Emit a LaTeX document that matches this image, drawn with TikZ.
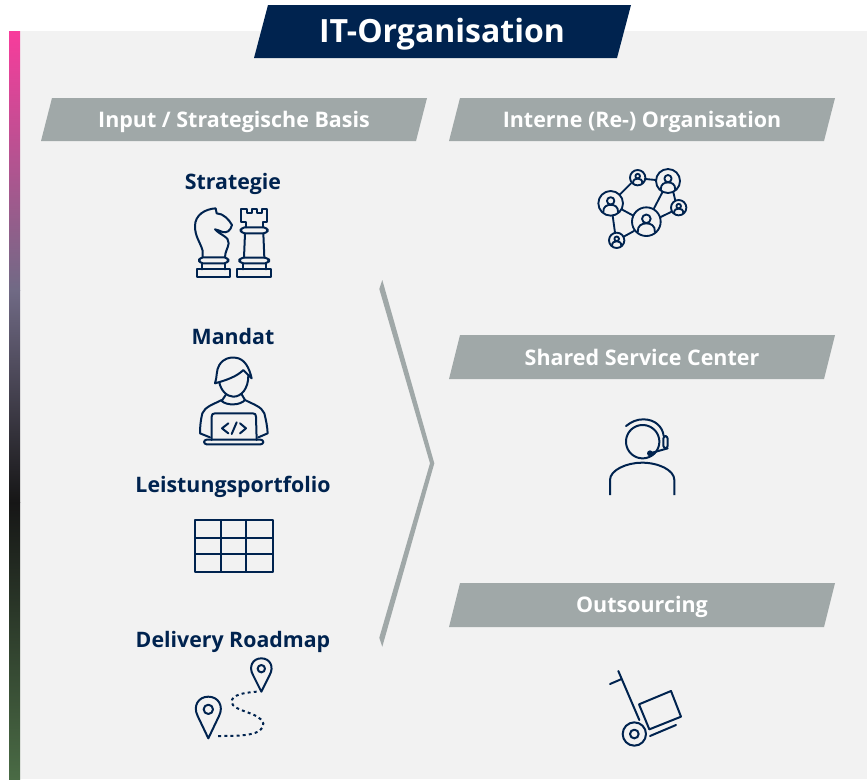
\documentclass[tikz,border=0pt]{standalone}
\usepackage{fontspec}
\setmainfont{Open Sans}
\definecolor{navy}{HTML}{00234F}
\definecolor{hdr}{HTML}{A0A8A8}
\definecolor{panel}{HTML}{F2F2F2}
\definecolor{gA}{HTML}{F83C9C}
\definecolor{gB}{HTML}{706A85}
\definecolor{gC}{HTML}{161616}
\definecolor{gD}{HTML}{4A6B45}
\tikzset{
  hdrtext/.style={text=white,font=\bfseries\fontsize{16.1}{20}\selectfont,inner sep=0pt,anchor=center},
  lbltext/.style={text=navy,font=\bfseries\fontsize{16}{20}\selectfont,inner sep=0pt,anchor=center},
  icon/.style={draw=navy,line width=1.5pt,line join=round,line cap=round},
  thin icon/.style={draw=navy,line width=1.4pt,line join=round,line cap=round},
  zoomed/.style={x=0.25pt,y=-0.25pt}
}
\newcommand{\netp}[3]{%
  \draw[thin icon] (#1,#2) circle[radius=#3];
  \draw[thin icon] (#1,{#2-0.2*#3}) circle[radius={0.3*#3}];
  \draw[thin icon] ({#1-0.6*#3},{#2+0.72*#3}) .. controls ({#1-0.62*#3},{#2+0.25*#3}) and ({#1-0.3*#3},{#2+0.12*#3}) .. (#1,{#2+0.12*#3}) .. controls ({#1+0.3*#3},{#2+0.12*#3}) and ({#1+0.62*#3},{#2+0.25*#3}) .. ({#1+0.6*#3},{#2+0.72*#3});
}
\begin{document}
\begin{tikzpicture}[x=0.75pt,y=-0.75pt]
\useasboundingbox (0,0) rectangle (867,779);
\fill[white] (0,0) rectangle (867,779);
\fill[panel] (20,31) rectangle (867,779);
% gradient bar
\shade[top color=gA,bottom color=gB] (9,31) rectangle (20,290.5);
\shade[top color=gB,bottom color=gC] (9,290) rectangle (20,502.5);
\shade[top color=gC,bottom color=gD] (9,502) rectangle (20,779);
% title
\fill[navy] (254,58) -- (268,5) -- (631,5) -- (617,58) -- cycle;
\node[text=white,font=\bfseries\fontsize{24}{30}\selectfont,inner sep=0pt] (title) at (442,34.5) {IT-Organisation};
% headers
\fill[hdr] (41,141) -- (52,98) -- (427,98) -- (416,141) -- cycle;
\fill[hdr] (449,141) -- (460,98) -- (835,98) -- (824,141) -- cycle;
\fill[hdr] (449,379) -- (460,335) -- (835,335) -- (824,379) -- cycle;
\fill[hdr] (449,627) -- (460,583) -- (835,583) -- (824,627) -- cycle;
\node[hdrtext] (h1) at (234,121.8) {Input / Strategische Basis};
\node[hdrtext] (h2) at (642,121.8) {Interne (Re-) Organisation};
\node[hdrtext] (h3) at (642,357.6) {Shared Service Center};
\node[hdrtext] (h4) at (642,606.8) {Outsourcing};
% labels
\node[lbltext] (l1) at (233,183.8) {Strategie};
\node[lbltext] (l2) at (233,336) {Mandat};
\node[lbltext] (l3) at (233,487.2) {Leistungsportfolio};
\node[lbltext] (l4) at (233,641.8) {Delivery Roadmap};
% chevron
\fill[hdr] (382.3,280) -- (434.3,463.3) -- (382.3,646.7) -- (379.3,637.7) -- (430,463.3) -- (379.3,289) -- cycle;
% chess
\begin{scope}[shift={(170,190)},zoomed]
\draw[icon] (98,202) -- (98,182) .. controls (90,155) and (75,140) .. (75,108) .. controls (75,75) and (105,57) .. (137,55) -- (140,70) .. controls (160,70) and (178,90) .. (186,105) .. controls (182,122) and (170,130) .. (158,126) .. controls (150,122) and (142,120) .. (135,118) .. controls (150,135) and (178,140) .. (176,160) .. controls (174,175) and (165,185) .. (165,202);
\draw[icon,rounded corners=3pt] (87,202) rectangle (175,220);
\draw[icon] (97,220) -- (97,238) (165,220) -- (165,238);
\draw[icon] (82,238) rectangle (180,260);
\draw[icon] (227,112) -- (227,95) -- (213,95) -- (213,58) -- (230,58) -- (230,70) -- (245,70) -- (245,58) -- (260,58) -- (260,70) -- (275,70) -- (275,58) -- (292,58) -- (292,95) -- (280,95) -- (280,112);
\draw[icon,rounded corners=3pt] (212,112) rectangle (293,130);
\draw[icon] (225,130) -- (222,203) (280,130) -- (283,203);
\draw[icon,rounded corners=3pt] (208,203) rectangle (297,220);
\draw[icon] (218,220) -- (218,238) (288,220) -- (288,238);
\draw[icon] (200,238) rectangle (303,260);
\end{scope}
% person with laptop
\begin{scope}[shift={(180,345)},zoomed]
\draw[icon] (105,115) .. controls (112,95) and (108,75) .. (118,60) .. controls (130,40) and (150,36) .. (165,38) .. controls (195,40) and (208,70) .. (215,100) -- (190,75) .. controls (170,95) and (140,105) .. (105,115) -- cycle;
\draw[icon] (118,112) .. controls (122,135) and (140,155) .. (160,155) .. controls (185,155) and (205,130) .. (205,92);
\draw[icon] (137,150) -- (125,168) .. controls (140,182) and (180,182) .. (195,165) -- (185,148);
\draw[icon] (125,165) .. controls (100,178) and (75,185) .. (67,205) .. controls (62,225) and (60,245) .. (60,265) -- (90,277);
\draw[icon] (195,165) .. controls (220,178) and (245,185) .. (253,205) .. controls (258,225) and (262,245) .. (263,265) -- (235,277);
\draw[icon] (95,285) -- (95,215) .. controls (95,208) and (98,205) .. (105,205) -- (218,205) .. controls (225,205) and (228,208) .. (228,215) -- (230,285);
\draw[icon,rounded corners=2pt] (72,284) rectangle (250,298);
\draw[icon] (145,235) -- (126,250) -- (145,265) (170,232) -- (155,267) (180,235) -- (198,250) -- (180,265);
\end{scope}
% grid
\draw[icon,line cap=butt] (194.8,520) rectangle (272.6,571.7);
\draw[icon,line cap=butt] (220.7,520) -- (220.7,571.7) (246,520) -- (246,571.7) (194.8,537.7) -- (272.6,537.7) (194.8,554.3) -- (272.6,554.3);
% map
\begin{scope}[shift={(180,650)},zoomed]
\draw[icon] (85,265) -- (53,198) .. controls (38,168) and (55,140) .. (85,140) .. controls (115,140) and (132,168) .. (117,198) -- cycle;
\draw[icon] (85,178) circle[radius=14];
\draw[icon] (244,125) -- (219,75) .. controls (205,50) and (218,25) .. (244,25) .. controls (270,25) and (283,50) .. (269,75) -- cycle;
\draw[icon] (244,56) circle[radius=11];
\draw[icon,line cap=butt,dash pattern=on 2.2pt off 2.4pt] (230,125) .. controls (190,128) and (155,135) .. (155,155) .. controls (155,185) and (240,185) .. (250,220) .. controls (252,258) and (180,258) .. (110,258);
\end{scope}
% network
\begin{scope}[shift={(580,155)},zoomed]
\netp{173}{68}{23}
\netp{264}{78}{36}
\netp{92}{145}{37}
\netp{199}{200}{43}
\netp{296}{158}{23}
\netp{110}{256}{23}
\draw[thin icon] (153,85) -- (118,120) (196,72) -- (228,75) (247,112) -- (222,160) (280,112) -- (286,137) (275,170) -- (240,187) (125,163) -- (160,182) (98,182) -- (105,233) (131,245) -- (162,228);
\end{scope}
% headset
\begin{scope}[shift={(590,410)},zoomed]
\draw[icon] plot[smooth,domain=82:-342,samples=60] ({158+50*cos(\x)},{95+50*sin(\x)});
\draw[icon] (108,48) .. controls (125,35) and (140,28) .. (160,28) .. controls (195,28) and (218,50) .. (221,78);
\draw[icon,rounded corners=2pt] (220,78) -- (233,78) -- (233,115) -- (220,115) -- cycle;
\draw[icon] (233,115) -- (180,130);
\fill[navy] (180,130) circle[radius=9];
\draw[icon,line cap=butt] (60,255) -- (60,210) .. controls (60,180) and (110,158) .. (156,158) .. controls (205,158) and (253,180) .. (253,210) -- (253,255);
\end{scope}
% trolley
\begin{scope}[shift={(590,660)},zoomed]
\draw[icon] (85,33) -- (148,180) (60,72) -- (95,57);
\draw[icon] (133,222) circle[radius=35];
\draw[icon] (133,222) circle[radius=13];
\draw[icon] (147,133) -- (243,93) -- (273,170) -- (178,208) -- cycle;
\draw[icon] (180,228) -- (258,195);
\end{scope}
\end{tikzpicture}
\end{document}
